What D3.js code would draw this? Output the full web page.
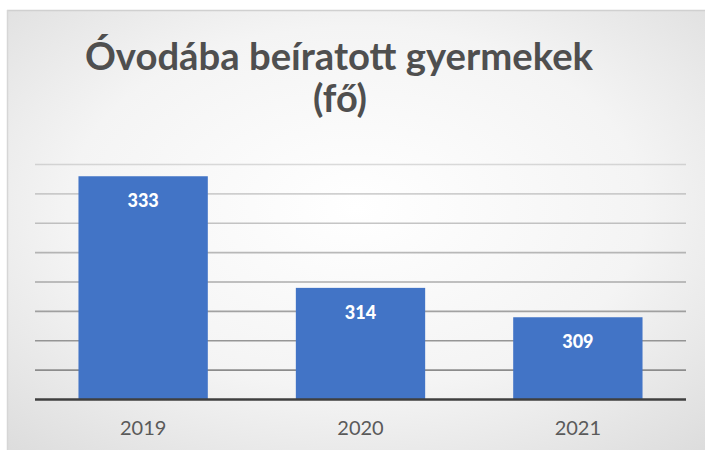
<!DOCTYPE html>
<html>
<head>
<meta charset="utf-8">
<script src="https://cdn.jsdelivr.net/npm/d3@7"></script>
<style>
  html, body { margin: 0; padding: 0; background: #fff; }
  svg { display: block; }
</style>
</head>
<body>
<div id="chart"></div>
<script>
var years = ["2019", "2020", "2021"];
var values = [333, 314, 309];
var gridTicks = [300, 305, 310, 315, 320, 325, 330, 335];
var titleLines = ["Óvodába beíratott gyermekek", "(fő)"];

var W = 705, H = 450;
var svg = d3.select("#chart").append("svg")
    .attr("width", W).attr("height", H);

var defs = svg.append("defs");
var bg = defs.append("radialGradient").attr("id", "bg")
    .attr("cx", "50%").attr("cy", "45%").attr("r", "75%");
bg.append("stop").attr("offset", "0%").attr("stop-color", "#ffffff");
bg.append("stop").attr("offset", "55%").attr("stop-color", "#f4f4f4");
bg.append("stop").attr("offset", "100%").attr("stop-color", "#dcdcdc");

// chart area (scanned page with a light frame)
svg.append("rect").attr("x", 7).attr("y", 10)
    .attr("width", W - 7).attr("height", H - 10)
    .attr("fill", "url(#bg)");
svg.append("line").attr("x1", 7).attr("x2", W).attr("y1", 10.5).attr("y2", 10.5)
    .attr("stroke", "#d0d0d0").attr("stroke-width", 1.5);
svg.append("line").attr("x1", 7.5).attr("x2", 7.5).attr("y1", 10).attr("y2", H)
    .attr("stroke", "#d6d6d6").attr("stroke-width", 1.5);

var x = d3.scaleBand().domain(years).range([35, 686]).paddingInner(0.405).paddingOuter(0.2);
var y = d3.scaleLinear().domain([295, 335]).range([399.5, 164.5]);

// gridlines, fading toward the top
var gridOpacity = d3.scaleLinear().domain([300, 335]).range([1, 0.3]);
svg.append("g").selectAll("line").data(gridTicks).enter().append("line")
    .attr("x1", 35).attr("x2", 686)
    .attr("y1", function(d) { return y(d); })
    .attr("y2", function(d) { return y(d); })
    .attr("stroke", "#8c8c8c")
    .attr("stroke-opacity", function(d) { return gridOpacity(d); })
    .attr("stroke-width", 1.6);

// bars
svg.append("g").selectAll("rect").data(values).enter().append("rect")
    .attr("x", function(d, i) { return x(years[i]); })
    .attr("y", function(d) { return y(d); })
    .attr("width", x.bandwidth())
    .attr("height", function(d) { return y(295) - y(d); })
    .attr("fill", "#4274c6");

// value labels
svg.append("g").selectAll("text").data(values).enter().append("text")
    .attr("x", function(d, i) { return x(years[i]) + x.bandwidth() / 2; })
    .attr("y", function(d) { return y(d) + 31; })
    .attr("text-anchor", "middle")
    .attr("font-family", "Lato, 'Open Sans', sans-serif")
    .attr("font-weight", "900")
    .attr("font-size", 18)
    .attr("fill", "#ffffff")
    .text(function(d) { return d; });

// baseline
svg.append("line").attr("x1", 35).attr("x2", 686)
    .attr("y1", y(295)).attr("y2", y(295))
    .attr("stroke", "#3f3f3f").attr("stroke-width", 2.5);

// x axis labels
var xAxis = d3.axisBottom(x).tickSize(0).tickPadding(0);
var gx = svg.append("g").attr("transform", "translate(0," + 421 + ")").call(xAxis);
gx.select(".domain").remove();
gx.selectAll("text")
    .attr("dy", "0.71em")
    .attr("font-family", "Lato, 'Open Sans', sans-serif")
    .attr("font-size", 20)
    .attr("fill", "#5a5a5a");

// title
var title = svg.append("g");
title.append("text")
    .attr("x", 339).attr("y", 70)
    .attr("text-anchor", "middle")
    .attr("font-family", "Lato, 'Open Sans', sans-serif")
    .attr("font-weight", "bold")
    .attr("font-size", 38)
    .attr("fill", "#4f4f4f")
    .attr("textLength", 508)
    .attr("lengthAdjust", "spacingAndGlyphs")
    .text(titleLines[0]);
title.append("text")
    .attr("x", 340).attr("y", 112)
    .attr("text-anchor", "middle")
    .attr("font-family", "Lato, 'Open Sans', sans-serif")
    .attr("font-weight", "bold")
    .attr("font-size", 38)
    .attr("fill", "#4f4f4f")
    .text(titleLines[1]);
</script>
</body>
</html>
